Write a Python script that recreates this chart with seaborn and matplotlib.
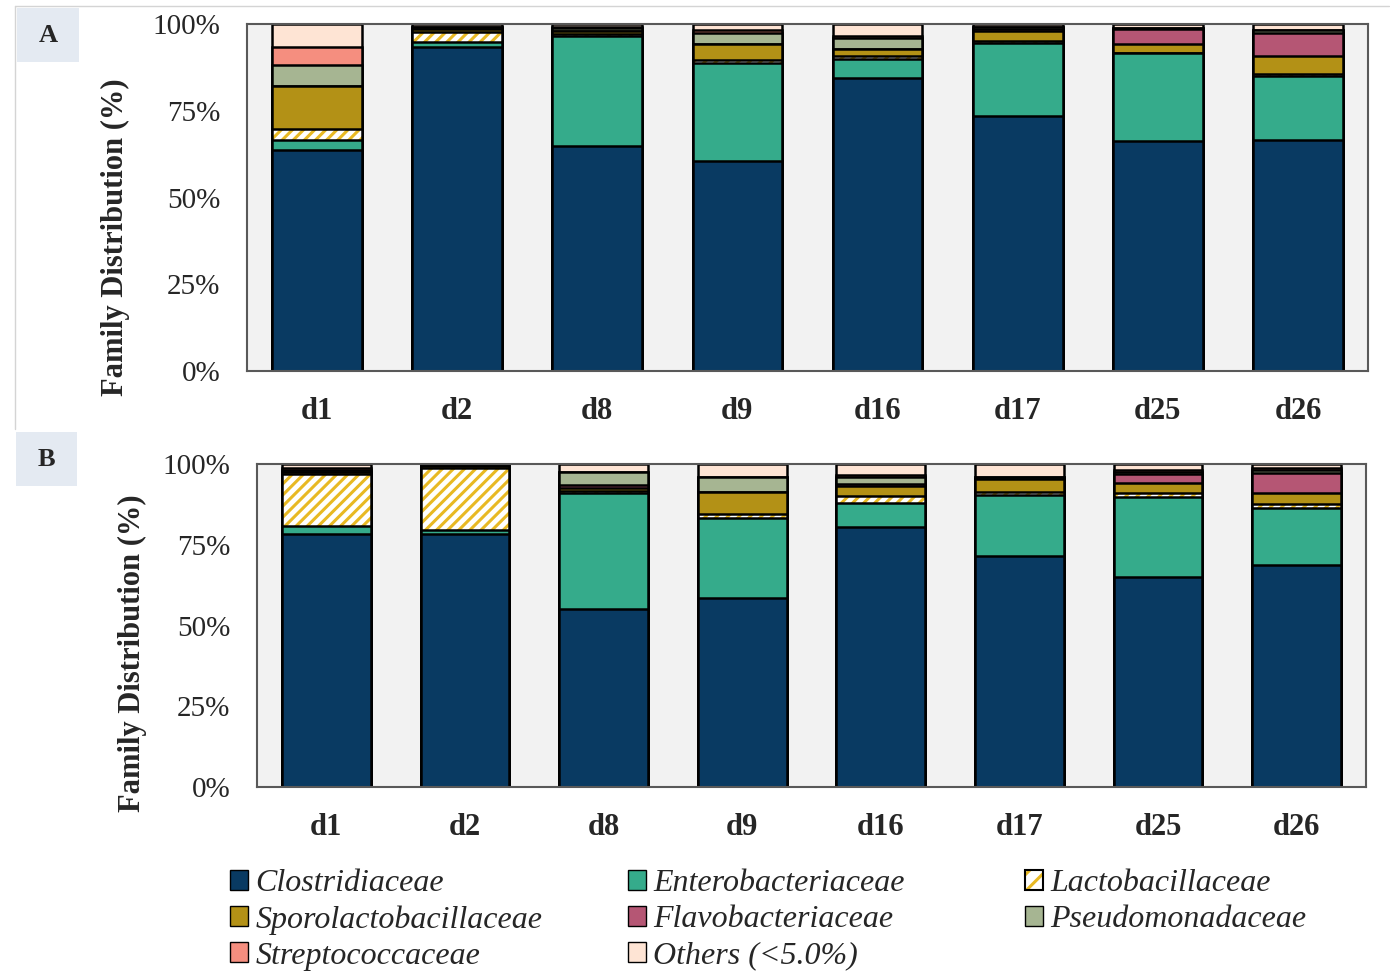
import matplotlib
matplotlib.use("Agg")
import matplotlib.pyplot as plt
import pandas as pd
import seaborn as sns
from matplotlib.patches import Patch, Rectangle
from matplotlib.legend_handler import HandlerBase
from matplotlib.lines import Line2D

# ---------------------------------------------------------------- data
days = ["d1", "d2", "d8", "d9", "d16", "d17", "d25", "d26"]
families = ["Clostridiaceae", "Enterobacteriaceae", "Lactobacillaceae",
            "Sporolactobacillaceae", "Flavobacteriaceae", "Pseudomonadaceae",
            "Streptococcaceae", "Others (<5.0%)"]
y_ticks = [0, 25, 50, 75, 100]
y_tick_labels = ["0%", "25%", "50%", "75%", "100%"]

# Panel A relative abundances (%)
clostridiaceae_a = [63.7, 93.5, 64.8, 60.5, 84.5, 73.5, 66.4, 66.6]
enterobacteriaceae_a = [3.0, 1.2, 31.7, 28.2, 5.5, 21.1, 25.2, 18.4]
lactobacillaceae_a = [3.0, 3.0, 0.5, 0.9, 0.8, 0.6, 0.0, 0.5]
sporolactobacillaceae_a = [12.3, 1.0, 1.0, 4.6, 2.0, 2.8, 2.5, 5.2]
flavobacteriaceae_a = [0.0, 0.0, 0.0, 0.0, 0.0, 0.5, 4.4, 6.8]
pseudomonadaceae_a = [6.3, 0.5, 0.8, 3.2, 3.2, 0.5, 0.3, 0.8]
streptococcaceae_a = [5.0, 0.0, 0.3, 0.8, 0.5, 0.0, 0.0, 0.0]
others_a = [6.7, 0.8, 0.9, 1.8, 3.5, 1.0, 1.2, 1.7]

# Panel B relative abundances (%)
clostridiaceae_b = [78.4, 78.4, 55.1, 58.4, 80.5, 71.5, 64.9, 68.7]
enterobacteriaceae_b = [2.4, 1.2, 35.8, 25.0, 7.3, 18.9, 24.9, 17.8]
lactobacillaceae_b = [16.0, 19.3, 0.8, 1.2, 2.2, 0.8, 1.2, 1.0]
sporolactobacillaceae_b = [0.8, 0.5, 1.0, 6.6, 3.2, 4.2, 3.2, 3.4]
flavobacteriaceae_b = [0.0, 0.0, 0.8, 0.0, 0.5, 0.0, 2.8, 6.4]
pseudomonadaceae_b = [0.5, 0.0, 4.0, 4.8, 2.4, 0.6, 0.5, 0.8]
streptococcaceae_b = [0.7, 0.0, 0.0, 0.0, 0.5, 0.0, 0.5, 0.6]
others_b = [1.2, 0.6, 2.5, 4.0, 3.4, 4.0, 2.0, 1.3]

# ---------------------------------------------------------------- style
colors = {
    "Clostridiaceae": "#093a62",
    "Enterobacteriaceae": "#35ab8b",
    "Lactobacillaceae": "#ffffff",
    "Sporolactobacillaceae": "#b39116",
    "Flavobacteriaceae": "#b55674",
    "Pseudomonadaceae": "#a6b592",
    "Streptococcaceae": "#f58e7f",
    "Others (<5.0%)": "#fee4d4",
}
HATCH_GOLD = "#e8b923"
EDGE_LW = 1.8
BAR_W = 0.64
SPINE_COLOR = "#595959"
PLOT_BG = "#f2f2f2"

sns.set_style("white")
plt.rcParams["font.family"] = ["Liberation Serif", "DejaVu Serif"]
plt.rcParams["hatch.linewidth"] = 2.2

W, H = 1390, 973
fig = plt.figure(figsize=(W / 100, H / 100), dpi=100)


def px_rect(x0, y0, x1, y1):
    return [x0 / W, 1 - y1 / H, (x1 - x0) / W, (y1 - y0) / H]


def draw_panel(ax, columns, ylabel_xy):
    table = pd.DataFrame(columns, index=families, columns=days)
    tops = table.cumsum(axis=0)
    # stack by overdrawing cumulative totals, topmost family first
    for fam in reversed(families):
        d = pd.DataFrame({"day": days, "top": tops.loc[fam].values})
        common = dict(data=d, x="day", y="top", order=days, width=BAR_W,
                      errorbar=None, saturation=1, ax=ax)
        if fam == "Lactobacillaceae":
            sns.barplot(color="white", edgecolor=HATCH_GOLD, linewidth=0,
                        hatch="///", **common)
            sns.barplot(color="black", facecolor="none", edgecolor="black",
                        linewidth=EDGE_LW, **common)
        else:
            sns.barplot(color=colors[fam], edgecolor="black",
                        linewidth=EDGE_LW, **common)

    ax.set_facecolor(PLOT_BG)
    ax.set_xlim(-0.5, len(days) - 0.5)
    ax.set_ylim(0, 100)
    ax.set_yticks(y_ticks)
    ax.set_yticklabels(y_tick_labels, fontsize=21)
    ax.set_xticks(range(len(days)))
    ax.set_xticklabels(days, fontsize=22, fontweight="bold")
    ax.tick_params(axis="both", length=0, pad=19)
    ax.set_xlabel("")
    ax.set_ylabel("Family Distribution (%)", fontsize=22, fontweight="bold")
    ax.yaxis.set_label_coords(*ylabel_xy)
    for sp in ax.spines.values():
        sp.set_visible(True)
        sp.set_color(SPINE_COLOR)
        sp.set_linewidth(1.5)


axA = fig.add_axes(px_rect(247, 24, 1368, 371))
axB = fig.add_axes(px_rect(257, 464, 1366, 787))

draw_panel(axA, [clostridiaceae_a, enterobacteriaceae_a, lactobacillaceae_a,
                 sporolactobacillaceae_a, flavobacteriaceae_a, pseudomonadaceae_a,
                 streptococcaceae_a, others_a], (-0.104, 0.386))
draw_panel(axB, [clostridiaceae_b, enterobacteriaceae_b, lactobacillaceae_b,
                 sporolactobacillaceae_b, flavobacteriaceae_b, pseudomonadaceae_b,
                 streptococcaceae_b, others_b], (-0.099, 0.415))

# panel letters on tinted tiles
for letter, (x0, y0, x1, y1) in {"A": (17, 8, 79, 62), "B": (16, 432, 77, 486)}.items():
    fig.add_artist(Rectangle((x0 / W, 1 - y1 / H), (x1 - x0) / W, (y1 - y0) / H,
                             transform=fig.transFigure, facecolor="#e4eaf2",
                             edgecolor="none", zorder=0))
    fig.text((x0 + x1) / 2 / W, 1 - (y0 + y1) / 2 / H, letter, ha="center",
             va="center", fontsize=19, fontweight="bold")

# thin frame around the upper panel
fig.add_artist(Line2D([15 / W, 15 / W], [1 - 429 / H, 1 - 6 / H],
                      transform=fig.transFigure, color="#d4d4d4", lw=1))
fig.add_artist(Line2D([15 / W, 1389 / W], [1 - 6 / H, 1 - 6 / H],
                      transform=fig.transFigure, color="#d4d4d4", lw=1))


# ---------------------------------------------------------------- legend
class HatchedSquare(HandlerBase):
    def create_artists(self, legend, orig_handle, xdescent, ydescent,
                       width, height, fontsize, trans):
        fill = Rectangle((-xdescent, -ydescent), width, height,
                         facecolor="white", edgecolor=HATCH_GOLD, hatch="//",
                         linewidth=0, transform=trans)
        edge = Rectangle((-xdescent, -ydescent), width, height,
                         facecolor="none", edgecolor="black", linewidth=1.5,
                         transform=trans)
        return [fill, edge]


handles = {}
for fam in families:
    if fam == "Lactobacillaceae":
        handles[fam] = Patch(facecolor="white", edgecolor="black")
    else:
        handles[fam] = Patch(facecolor=colors[fam], edgecolor="black", linewidth=1)

legend_columns = [
    (230, ["Clostridiaceae", "Sporolactobacillaceae", "Streptococcaceae"]),
    (628, ["Enterobacteriaceae", "Flavobacteriaceae", "Others (<5.0%)"]),
    (1025, ["Lactobacillaceae", "Pseudomonadaceae"]),
]
for x_left, names in legend_columns:
    fig.legend([handles[n] for n in names], names, loc="upper left",
               bbox_to_anchor=(x_left / W, 1 - 869 / H), frameon=False,
               borderpad=0, borderaxespad=0, handlelength=0.57,
               handleheight=0.57, handletextpad=0.22, labelspacing=0.22,
               prop={"style": "italic", "size": 23},
               handler_map={handles["Lactobacillaceae"]: HatchedSquare()})

fig.savefig("out.png", dpi=100, facecolor="white")
